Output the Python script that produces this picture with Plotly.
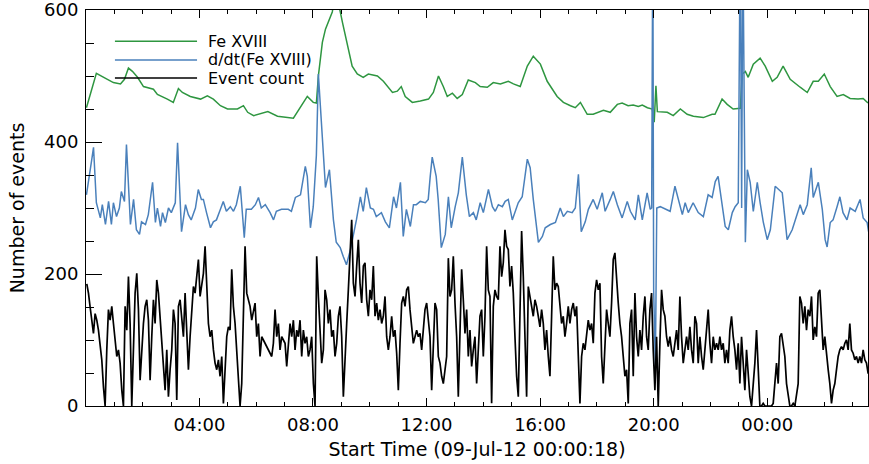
import plotly.graph_objects as go

# ---------------- data ----------------
legend_labels = ["Fe XVIII", "d/dt(Fe XVIII)", "Event count"]
x_tick_vals = [4, 8, 12, 16, 20, 24]
x_tick_text = ["04:00", "08:00", "12:00", "16:00", "20:00", "00:00"]
x_minor_vals = list(range(1, 28))
y_tick_vals = [0, 200, 400, 600]
y_tick_text = ["0", "200", "400", "600"]
y_minor_vals = [50, 100, 150, 250, 300, 350, 450, 500, 550]
x_title = "Start Time (09-Jul-12 00:00:18)"
y_title = "Number of events"

# hours since 09-Jul-12 00:00
green_t = [0.02, 0.37, 0.76, 0.97, 1.22, 1.36, 1.50, 1.64, 1.82, 2.03, 2.38, 2.52, 2.87, 3.08, 3.26, 3.40,
           3.68, 4.04, 4.28, 4.49, 4.74, 4.99, 5.34, 5.55, 5.70, 5.91, 6.41, 6.75, 7.31, 7.66, 7.80, 8.01,
           8.12, 8.19, 8.33, 8.44, 8.54, 8.68, 8.75, 8.89, 9.04, 9.21, 9.38, 9.56, 9.67, 9.77, 9.95, 10.27,
           10.48, 10.80, 10.97, 11.11, 11.25, 11.50, 11.78, 12.07, 12.24, 12.42, 12.59, 12.73, 12.91, 13.08,
           13.26, 13.47, 13.72, 13.89, 14.14, 14.35, 14.60, 14.88, 15.06, 15.30, 15.55, 15.76, 16.01, 16.25,
           16.60, 16.82, 17.07, 17.24, 17.42, 17.66, 17.87, 18.23, 18.47, 18.72, 18.89, 19.10, 19.28, 19.46,
           19.60, 19.78, 19.95, 20.02, 20.08, 20.13, 20.48, 20.69, 20.94, 21.18, 21.40, 21.75, 22.06, 22.16,
           22.41, 22.59, 22.80, 23.05, 23.12, 23.23, 23.33, 23.51, 23.75, 23.93, 24.18, 24.35, 24.56, 24.81,
           25.16, 25.41, 25.62, 25.80, 26.01, 26.22, 26.46, 26.68, 26.92, 27.20, 27.38, 27.55]
green_v = [452, 504, 495, 490, 488, 495, 512, 507, 498, 484, 480, 472, 465, 460, 481, 475,
           469, 465, 470, 465, 455, 450, 450, 455, 445, 440, 446, 439, 436, 460, 469, 460,
           459, 500, 551, 571, 581, 597, 615, 612, 581, 546, 515, 503, 500, 498, 503, 500,
           492, 475, 477, 484, 469, 460, 462, 465, 475, 500, 484, 469, 474, 466,
           472, 494, 490, 484, 483, 490, 488, 492, 488, 484, 515, 530, 518, 492,
           469, 460, 455, 452, 460, 442, 442, 448, 445, 457, 459, 455, 456, 454,
           456, 452, 450, 430, 485, 446, 445, 440, 450, 442, 439, 437, 442, 442,
           465, 457, 450, 451, 503, 507, 498, 518, 527, 515, 492, 498, 515, 495,
           483, 475, 492, 492, 503, 484, 469, 472, 466, 465, 466, 459]

blue_t = [0.02, 0.09, 0.21, 0.27, 0.37, 0.51, 0.58, 0.69, 0.80, 0.90, 0.97, 1.08, 1.18, 1.25, 1.36, 1.43,
          1.57, 1.68, 1.78, 1.89, 1.96, 2.10, 2.20, 2.35, 2.45, 2.52, 2.63, 2.70, 2.80, 2.91, 3.01, 3.15,
          3.23, 3.37, 3.51, 3.61, 3.71, 3.86, 3.96, 4.07, 4.14, 4.25, 4.39, 4.49, 4.60, 4.74, 4.84, 4.95,
          5.09, 5.20, 5.30, 5.44, 5.48, 5.58, 5.65, 5.83, 5.97, 6.08, 6.18, 6.32, 6.49, 6.61, 6.71, 6.89,
          7.13, 7.24, 7.38, 7.56, 7.73, 7.80, 7.91, 8.01, 8.12, 8.19, 8.26, 8.37, 8.44, 8.58, 8.72, 8.82,
          8.96, 9.07, 9.18, 9.32, 9.42, 9.53, 9.67, 9.77, 9.88, 10.02, 10.13, 10.23, 10.41, 10.55, 10.69,
          10.84, 10.94, 11.08, 11.18, 11.29, 11.43, 11.54, 11.64, 11.78, 11.96, 12.06, 12.13, 12.20, 12.34,
          12.41, 12.52, 12.66, 12.77, 12.87, 13.01, 13.12, 13.26, 13.40, 13.51, 13.65, 13.75, 13.89, 14.00,
          14.18, 14.32, 14.42, 14.53, 14.67, 14.77, 14.88, 15.02, 15.13, 15.23, 15.37, 15.55, 15.65, 15.76,
          15.94, 16.08, 16.18, 16.36, 16.54, 16.71, 16.82, 16.96, 17.13, 17.24, 17.35, 17.45, 17.59, 17.70,
          17.87, 18.01, 18.19, 18.29, 18.47, 18.58, 18.72, 18.89, 19.07, 19.18, 19.35, 19.46, 19.60, 19.77,
          19.88, 19.93, 19.97, 20.00, 20.06, 20.11, 20.23, 20.41, 20.58, 20.75, 20.87, 21.01, 21.11, 21.22,
          21.39, 21.57, 21.75, 21.92, 22.06, 22.17, 22.27, 22.41, 22.52, 22.63, 22.77, 22.87, 22.98, 23.05,
          23.10, 23.14, 23.19, 23.23, 23.30, 23.40, 23.51, 23.65, 23.75, 23.86, 24.00, 24.11, 24.28, 24.39,
          24.53, 24.63, 24.70, 24.88, 24.99, 25.16, 25.27, 25.41, 25.55, 25.62, 25.80, 25.94, 26.04, 26.11,
          26.22, 26.32, 26.46, 26.56, 26.67, 26.81, 26.92, 27.10, 27.27, 27.38, 27.52, 27.57]
blue_v = [320, 343, 374, 392, 308, 285, 305, 275, 310, 275, 308, 287, 300, 325, 310, 396,
          275, 313, 267, 260, 279, 275, 290, 339, 278, 300, 272, 293, 278, 300, 293, 308,
          399, 264, 305, 290, 282, 300, 328, 313, 313, 293, 270, 279, 282, 298, 310, 295,
          302, 295, 305, 333, 308, 255, 298, 298, 305, 316, 300, 305, 293, 282, 295, 298,
          298, 295, 316, 320, 363, 348, 270, 302, 380, 503, 455, 374, 331, 358, 282, 248,
          240, 226, 214, 237, 257, 282, 317, 295, 331, 300, 298, 287, 293, 279, 270,
          317, 300, 339, 257, 298, 272, 305, 305, 310, 308, 313, 348, 377, 348,
          313, 240, 260, 317, 270, 302, 323, 377, 320, 287, 293, 282, 308, 293,
          328, 302, 295, 305, 302, 310, 313, 282, 295, 308, 317, 374, 361, 313,
          248, 257, 270, 275, 278, 300, 287, 295, 293, 300, 351, 264, 279, 298,
          313, 298, 323, 295, 313, 325, 305, 285, 310, 295, 282, 320, 282, 323,
          298, 300, 720, 176, 60, 300, 302, 298, 295, 333, 313, 290, 308, 293,
          308, 293, 287, 320, 316, 340, 348, 308, 272, 267, 293, 302, 308, 720,
          300, 720, 363, 248, 358, 339, 295, 339, 308, 279, 252, 267, 333, 328,
          323, 282, 252, 267, 282, 305, 290, 305, 361, 316, 339, 298, 252, 241,
          278, 282, 302, 317, 293, 282, 300, 295, 313, 285, 278, 264]

# event counts, regularly sampled
black_start_min = 1.97
black_step_min = 3.521
black_v = [185,
    171, 150, 125, 110, 140, 130, 115, 95, 70, 29,
    0, 85, 146, 130, 151, 125, 95, 75, 85, 65,
    24, 0, 151, 115, 196, 125, 0, 105, 171, 201,
    146, 39, 90, 125, 151, 161, 130, 39, 105, 161,
    125, 191, 171, 136, 105, 65, 24, 85, 14, 55,
    85, 146, 125, 9, 151, 161, 136, 105, 171, 105,
    55, 105, 151, 181, 171, 201, 222, 166, 181, 201,
    242, 176, 125, 105, 115, 85, 65, 55, 70, 45,
    75, 4, 60, 105, 120, 115, 207, 151, 125, 85,
    34, 0, 34, 136, 242, 171, 161, 151, 130, 146,
    156, 105, 125, 75, 105, 100, 95, 90, 85, 80,
    75, 95, 146, 105, 125, 85, 105, 100, 95, 60,
    95, 125, 105, 130, 85, 115, 105, 130, 75, 115,
    95, 105, 75, 85, 105, 34, 0, 227, 166, 105,
    65, 85, 176, 161, 125, 146, 105, 115, 75, 95,
    136, 151, 105, 14, 85, 125, 176, 222, 282, 186,
    166, 212, 252, 186, 156, 212, 217, 161, 136, 176,
    161, 212, 136, 156, 130, 146, 125, 136, 166, 105,
    85, 105, 136, 105, 115, 80, 24, 95, 156, 166,
    151, 176, 181, 146, 125, 95, 105, 115, 105, 110,
    85, 115, 146, 156, 130, 105, 24, 85, 156, 146,
    75, 65, 45, 34, 55, 75, 224, 166, 176, 227,
    156, 105, 14, 136, 207, 161, 110, 146, 75, 115,
    60, 85, 105, 34, 85, 136, 146, 75, 136, 242,
    176, 166, 4, 151, 176, 166, 161, 242, 196, 217,
    267, 242, 237, 181, 212, 171, 105, 45, 14, 136,
    265, 196, 115, 14, 181, 166, 151, 136, 161, 151,
    136, 120, 146, 125, 85, 115, 75, 45, 136, 227,
    176, 186, 181, 151, 125, 136, 105, 125, 151, 125,
    146, 156, 136, 151, 65, 4, 75, 95, 85, 105,
    130, 115, 125, 95, 171, 191, 176, 186, 75, 34,
    105, 146, 125, 105, 156, 222, 232, 186, 156, 125,
    105, 75, 45, 55, 4, 125, 146, 45, 171, 105,
    75, 115, 85, 136, 166, 105, 85, 146, 171, 85,
    24, 105, 0, 95, 176, 146, 136, 105, 90, 105,
    85, 75, 95, 115, 85, 166, 105, 65, 85, 105,
    85, 120, 85, 65, 136, 125, 65, 105, 75, 55,
    85, 115, 146, 95, 65, 105, 85, 95, 85, 105,
    85, 95, 65, 85, 65, 115, 136, 105, 85, 55,
    95, 34, 105, 65, 24, 85, 45, 14, 0, 34,
    65, 115, 55, 0, 0, 4, 0, 0, 0, 0,
    0, 4, 34, 65, 34, 105, 110, 95, 75, 34,
    14, 0, 0, 4, 0, 14, 34, 166, 156, 125,
    151, 115, 146, 136, 166, 100, 120, 105, 171, 176,
    136, 85, 105, 75, 55, 34, 4, 24, 34, 55,
    75, 85, 90, 85, 95, 100, 85, 125, 85, 80,
    70, 75, 65, 75, 65, 85, 70, 65, 49]
black_t = [(black_start_min + i * black_step_min) / 60.0 for i in range(len(black_v))]

# ---------------- styles ----------------
GREEN = "#2e9640"
BLUE = "#4a80bb"
BLACK = "#000000"
FONT = "DejaVu Sans"

fig = go.Figure()
fig.add_trace(go.Scatter(x=green_t, y=green_v, mode="lines", name=legend_labels[0],
                         line=dict(color=GREEN, width=1.5), showlegend=False))
fig.add_trace(go.Scatter(x=blue_t, y=blue_v, mode="lines", name=legend_labels[1],
                         line=dict(color=BLUE, width=1.5), showlegend=False))
fig.add_trace(go.Scatter(x=black_t, y=black_v, mode="lines", name=legend_labels[2],
                         line=dict(color=BLACK, width=1.7), showlegend=False))

# legend drawn with long line samples, like the original
legend_colors = [GREEN, BLUE, BLACK]
legend_y = [0.921, 0.874, 0.828]
for lab, col, yy in zip(legend_labels, legend_colors, legend_y):
    fig.add_shape(type="line", xref="paper", yref="paper", x0=0.037, x1=0.142, y0=yy, y1=yy,
                  line=dict(color=col, width=1.5), layer="above")
    fig.add_annotation(xref="paper", yref="paper", x=0.155, y=yy, text=lab, showarrow=False,
                       xanchor="left", yanchor="middle", borderpad=0,
                       font=dict(family=FONT, size=16, color="black"))

fig.update_layout(
    width=869, height=464,
    margin=dict(l=86, r=1, t=10, b=58, autoexpand=False),
    paper_bgcolor="white", plot_bgcolor="white",
    font=dict(family=FONT, size=18, color="black"),
    showlegend=False,
    xaxis=dict(
        range=[0.005, 27.55], showgrid=False, zeroline=False, automargin=False,
        showline=True, linecolor="black", linewidth=1, mirror="ticks",
        ticks="inside", ticklen=8, tickwidth=1, tickcolor="black",
        tickmode="array", tickvals=x_tick_vals, ticktext=x_tick_text,
        tickfont=dict(family=FONT, size=18, color="black"),
        ticklabelstandoff=2,
        minor=dict(tickmode="array", tickvals=x_minor_vals, ticks="inside", ticklen=4,
                   tickwidth=1, tickcolor="black", showgrid=False),
        title=dict(text=x_title, font=dict(family=FONT, size=19, color="black"), standoff=9),
    ),
    yaxis=dict(
        range=[0, 600], showgrid=False, zeroline=False, automargin=False,
        showline=True, linecolor="black", linewidth=1, mirror=True,
        ticks="inside", ticklen=16, tickwidth=1, tickcolor="black",
        tickmode="array", tickvals=y_tick_vals, ticktext=y_tick_text,
        tickfont=dict(family=FONT, size=18, color="black"),
        ticklabelstandoff=3, ticklabeloverflow="allow",
        minor=dict(tickmode="array", tickvals=y_minor_vals,
                   ticks="inside", ticklen=8, tickwidth=1, tickcolor="black", showgrid=False),
        title=dict(text=y_title, font=dict(family=FONT, size=19, color="black"), standoff=14),
    ),
    yaxis2=dict(
        overlaying="y", side="right", anchor="x", range=[0, 600], automargin=False,
        showgrid=False, zeroline=False, showline=False, showticklabels=False,
        ticks="inside", ticklen=10, tickwidth=1, tickcolor="black",
        tickmode="array", tickvals=y_tick_vals,
        minor=dict(tickmode="array", tickvals=y_minor_vals,
                   ticks="inside", ticklen=5, tickwidth=1, tickcolor="black", showgrid=False),
    ),
)

fig.write_html("out.html", config={"displayModeBar": False},
               post_script="document.body.style.margin='0px';document.body.style.padding='0px';")
